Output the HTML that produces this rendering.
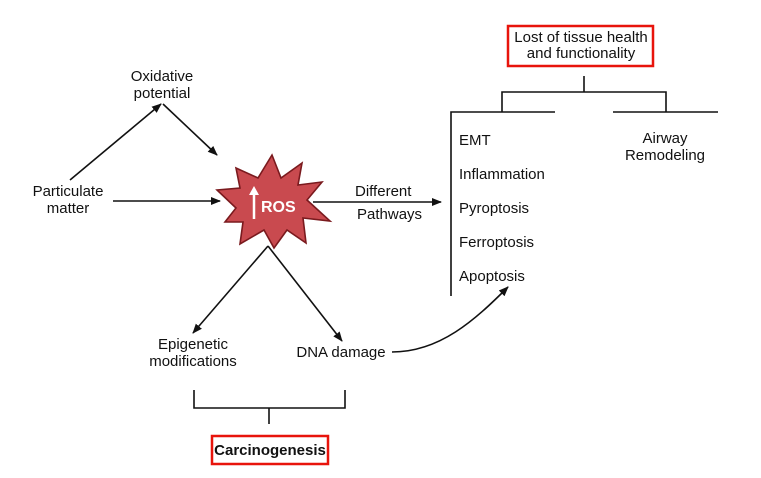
<!DOCTYPE html>
<html><head><meta charset="utf-8"><style>
body{margin:0;background:#fff;}
svg text{font-family:"Liberation Sans",Arial,sans-serif;font-size:15px;fill:#111;}
</style></head><body>
<svg width="761" height="473" viewBox="0 0 761 473" xmlns="http://www.w3.org/2000/svg">
<defs><marker id="a" markerWidth="10" markerHeight="10" refX="9" refY="5" orient="auto" markerUnits="userSpaceOnUse"><path d="M0,1 L10,5 L0,9 Z" fill="#111"/></marker></defs>
<g stroke="#111" stroke-width="1.6" fill="none">
<line x1="70" y1="180" x2="161" y2="104" marker-end="url(#a)"/>
<line x1="163" y1="104" x2="217" y2="155" marker-end="url(#a)"/>
<line x1="113" y1="201" x2="220" y2="201" marker-end="url(#a)"/>
<line x1="313" y1="202" x2="441" y2="202" marker-end="url(#a)"/>
<line x1="268" y1="246" x2="193" y2="333" marker-end="url(#a)"/>
<line x1="268" y1="246" x2="342" y2="341" marker-end="url(#a)"/>
<path d="M392,352 C440,352 475,320 508,287" marker-end="url(#a)"/>
<polyline points="194,390 194,408 345,408 345,390"/>
<line x1="269" y1="408" x2="269" y2="424"/>
<line x1="584" y1="76" x2="584" y2="92"/>
<polyline points="502,112 502,92 666,92 666,112"/>
<polyline points="555,112 451,112 451,296"/>
<line x1="613" y1="112" x2="718" y2="112"/>
</g>
<polygon points="272,155 281,178 302,163 298,185 322,182 307,200 330,221 303,218 306,243 287,230 274,248 264,230 240,244 243,222 225,222 236,208 217,190 240,188 236,168 258,178" fill="#c94a4f" stroke="#7a1a1e" stroke-width="1.6" stroke-linejoin="miter"/>
<line x1="254" y1="219" x2="254" y2="192" stroke="#fff" stroke-width="2.5"/>
<path d="M249,195 L254,186 L259,195 Z" fill="#fff"/>
<text x="261" y="212" style="fill:#fff;font-weight:bold;font-size:16px">ROS</text>
<text x="162" y="81" text-anchor="middle">Oxidative</text>
<text x="162" y="98" text-anchor="middle">potential</text>
<text x="68" y="196" text-anchor="middle">Particulate</text>
<text x="68" y="213" text-anchor="middle">matter</text>
<text x="355" y="196">Different</text>
<text x="357" y="219">Pathways</text>
<text x="459" y="145">EMT</text>
<text x="459" y="179">Inflammation</text>
<text x="459" y="213">Pyroptosis</text>
<text x="459" y="247">Ferroptosis</text>
<text x="459" y="281">Apoptosis</text>
<text x="665" y="143" text-anchor="middle">Airway</text>
<text x="665" y="160" text-anchor="middle">Remodeling</text>
<text x="193" y="349" text-anchor="middle">Epigenetic</text>
<text x="193" y="366" text-anchor="middle">modifications</text>
<text x="341" y="357" text-anchor="middle">DNA damage</text>
<rect x="508" y="26" width="145" height="40" fill="none" stroke="#e8140c" stroke-width="2.5"/>
<text x="581" y="42" text-anchor="middle">Lost of tissue health</text>
<text x="581" y="58" text-anchor="middle">and functionality</text>
<rect x="212" y="436" width="116" height="28" fill="none" stroke="#e8140c" stroke-width="2.5"/>
<text x="270" y="455" text-anchor="middle" style="font-weight:bold">Carcinogenesis</text>
</svg>
</body></html>
